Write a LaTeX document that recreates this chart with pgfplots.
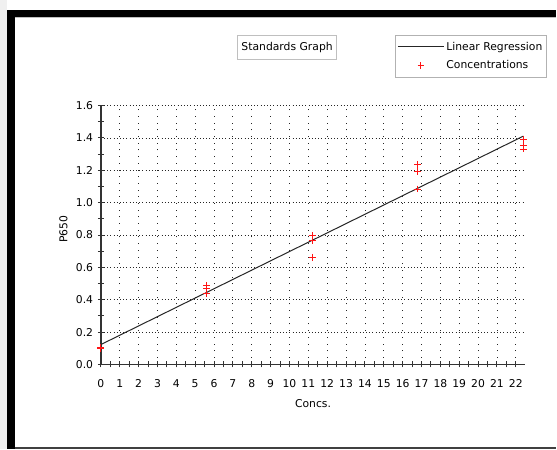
\documentclass[border=0pt]{standalone}
\usepackage{fontspec}
\setmainfont{DejaVu Sans}
\usepackage{pgfplots}
\pgfplotsset{compat=1.18}
\definecolor{mkred}{RGB}{255,20,20}
\newcommand{\chartfont}{\fontsize{10.8}{13}\selectfont}
\begin{document}
\chartfont
\begin{tikzpicture}
% page background and window frame
\fill[white] (0pt,0pt) rectangle (557pt,450pt);
\fill[black!6] (0pt,0pt) rectangle (7pt,450pt);
\fill[black] (7pt,0pt) rectangle (15pt,440pt);
\fill[black] (7pt,433pt) rectangle (557pt,440pt);
\draw[black!25, line width=0.8pt] (15pt,432.3pt) -- (557pt,432.3pt);
\draw[black!75, line width=1.6pt] (15pt,1.2pt) -- (557pt,1.2pt);
\begin{axis}[
  at={(101pt,85pt)}, anchor=south west,
  scale only axis, width=425pt, height=259.3pt,
  xmin=0, xmax=22.5, ymin=0, ymax=1.6,
  clip=false,
  axis lines=left,
  axis line style={-, line width=1.3pt, black!80},
  xtick={0,1,...,22},
  ytick={0,0.2,0.4,0.6,0.8,1.0,1.2,1.4,1.6},
  minor x tick num=1, minor y tick num=1,
  tick align=center,
  major tick length=6pt, minor tick length=6pt,
  every tick/.style={black!80, line width=1pt},
  yticklabel style={/pgf/number format/fixed, /pgf/number format/fixed zerofill, /pgf/number format/precision=1, xshift=-1pt},
  /pgf/number format/assume math mode=true,
  ticklabel style={font=\chartfont},
  xticklabel style={yshift=-8.5pt},
  grid=major,
  x grid style={black!85, line width=0.8pt, dash pattern=on 0.9pt off 5.8pt},
  y grid style={black!85, line width=0.8pt, dash pattern=on 0.9pt off 2.3pt},
  xlabel={Concs.},
  ylabel={P650},
  xlabel style={at={(axis description cs:0.5,-0.150)}, anchor=center, font=\chartfont},
  ylabel style={at={(axis description cs:-0.0882,0.5226)}, anchor=center, font=\chartfont},
  title={Standards Graph},
  title style={at={(axis description cs:0.4388,1.2000)}, anchor=center, draw=black!25, line width=0.8pt,
    minimum width=99pt, minimum height=24pt, inner sep=0pt, font=\chartfont},
  legend style={at={(axis description cs:1.0518,1.2727)}, anchor=north east,
    draw=black!30, line width=0.8pt, fill=white, font=\chartfont,
    inner xsep=2.5pt, inner ysep=4.5pt, row sep=5pt,
    /tikz/every even column/.append style={column sep=11pt}},
  legend cell align=left,
]
\addlegendimage{black!85, line width=1pt,
  legend image code/.code={\draw[black!85, line width=1pt] (0pt,0pt) -- (46pt,0pt);}}
\addlegendentry{Linear Regression}
\addlegendimage{only marks, mark=+, draw=mkred,
  legend image code/.code={\draw[draw=mkred, line width=1pt] (19.6pt,0pt) -- (26.4pt,0pt) (23pt,-3.4pt) -- (23pt,3.4pt);}}
\addlegendentry{Concentrations}
\addplot[black!85, line width=1pt, forget plot]
  coordinates {(0,0.123) (22.4,1.411)};
\addplot[only marks, mark=+, mkred, mark size=3.4pt,
  mark options={solid, mkred, line width=1pt}, forget plot]
  coordinates {
    (22.4,1.388) (22.4,1.351) (22.4,1.331)
    (16.8,1.234) (16.8,1.193) (16.8,1.084)
    (11.2,0.796) (11.2,0.767) (11.2,0.662)
    (5.6,0.489) (5.6,0.467) (5.6,0.438)
    (0,0.098) (0,0.104)
  };
\end{axis}
\end{tikzpicture}
\end{document}
